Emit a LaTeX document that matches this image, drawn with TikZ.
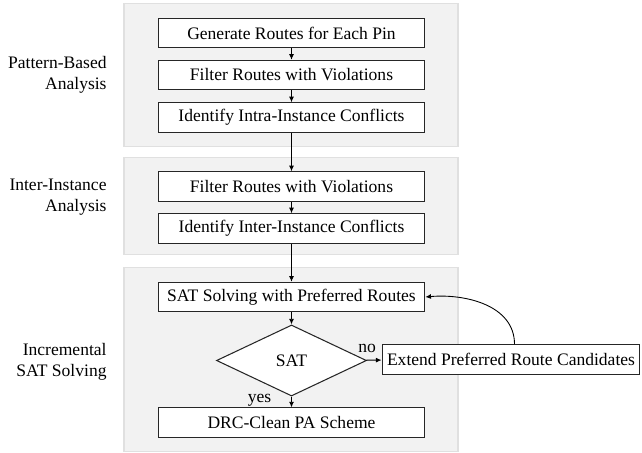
\documentclass[tikz,border=0pt]{standalone}
\usepackage{fontspec}
\setmainfont{Liberation Serif}
\usetikzlibrary{arrows.meta,shapes.geometric,math}
\definecolor{panelfill}{HTML}{F2F2F2}
\definecolor{panelline}{HTML}{E0E0E0}

\tikzset{
  panel/.style={draw=panelline, fill=panelfill, line width=0.6pt},
  stagebox/.style={draw=black!85, fill=white, line width=0.6pt, minimum width=152pt, minimum height=16.8pt, inner sep=0pt},
  checkbox/.style={diamond, draw=black!85, fill=white, line width=0.6pt, minimum width=85.5pt, minimum height=40.5pt, inner sep=0pt},
  stagelabel/.style={align=right, anchor=east, inner sep=0pt},
}

\begin{document}
\begin{tikzpicture}[x=0.57pt,y=-0.57pt, >={Latex[length=3.2pt,width=2.8pt]}, line width=0.5pt]
      \tikzmath{\cx = 291.5; \lx = 107;}
      \useasboundingbox (0,0) rectangle (642,453);
      % gray panels
      \path[panel] (124,3.5) rectangle (458,146.5);
      \path[panel] (124,157.5) rectangle (458,254.5);
      \path[panel] (124,267.5) rectangle (458,451.5);
      % stage labels
      \node[stagelabel] (pba) at (\lx,75) {Pattern-Based\\Analysis};
      \node[stagelabel] (iia) at (\lx,197) {Inter-Instance\\Analysis};
      \node[stagelabel] (iss) at (\lx,362) {Incremental\\SAT Solving};
      % steps
      \node[stagebox] (gen) at (\cx,33) {Generate Routes for Each Pin};
      \node[stagebox] (flta) at (\cx,75) {Filter Routes with Violations};
      \node[stagebox] (intra) at (\cx,117.5) {Identify Intra-Instance Conflicts};
      \node[stagebox] (fltb) at (\cx,186.5) {Filter Routes with Violations};
      \node[stagebox] (inter) at (\cx,228.5) {Identify Inter-Instance Conflicts};
      \node[stagebox] (sat) at (\cx,297) {SAT Solving with Preferred Routes};
      \node[checkbox] (chk) at (\cx,360.5) {SAT};
      \node[stagebox] (drc) at (\cx,422.7) {DRC-Clean PA Scheme};
      \node[stagebox, minimum width=147pt] (ext) at (511,359.5) {Extend Preferred Route Candidates};
      % connectors
      \draw[->] (gen) -- (flta);
      \draw[->] (flta) -- (intra);
      \draw[->] (intra) -- (fltb);
      \draw[->] (fltb) -- (inter);
      \draw[->] (inter) -- (sat);
      \draw[->] (sat) -- (chk);
      \draw[->] (chk) -- node[left, xshift=-8pt, yshift=1pt] {yes} (drc);
      \draw[->] (chk) -- node[above, pos=0.05, yshift=0.5pt] {no} (ext);
      \draw[->] ([xshift=2pt]ext.north) to[out=90, in=5] (sat.east);
\end{tikzpicture}
\end{document}
